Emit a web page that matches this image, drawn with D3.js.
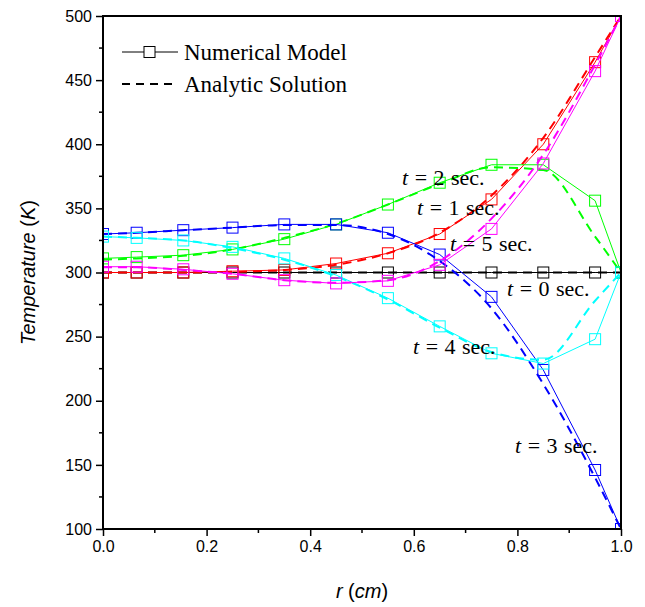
<!DOCTYPE html>
<html><head><meta charset="utf-8">
<script src="https://cdn.jsdelivr.net/npm/d3@7"></script>
<style>body{margin:0;background:#fff}svg{display:block}</style>
</head><body>
<svg id="c" width="645" height="607"></svg>
<script>
const rValues = [0, 0.065, 0.155, 0.25, 0.35, 0.45, 0.55, 0.65, 0.75, 0.85, 0.95, 1.0];
const numT0 = [300,300,300,300,300,300,300,300,300,300,300,300];
const numT1 = [300,300,300,301,302,307,315,330,357,400,464,500];
const numT2 = [311,312,313.5,318,326,337.5,353,370,384,384,356,300];
const numT3 = [330,331,333,335,337.5,337.5,331,314,281,224,146,100];
const numT4 = [328,327,325,320,311,298,280,258,237,229,248,300];
const numT5 = [304.5,304.5,302.5,299,294,291.5,293.5,306,334,385,457,500];
const anaT0 = [300,300,300,300,300,300,300,300,300,300,300,300];
const anaT1 = [300,300,300,300.5,302,306,315,331,360,405,468,500];
const anaT2 = [310,311,313,318,327,338,353,369,382,380,328,300];
const anaT3 = [330,331,333,335,337,337,330,309,272,213,140,100];
const anaT4 = [328,327,325,319,310,297,279,257,238,232,278,300];
const anaT5 = [304,304,302,299,294,292,294,309,342,392,462,500];
const seriesNames = ["t = 0 sec.","t = 1 sec.","t = 2 sec.","t = 3 sec.","t = 4 sec.","t = 5 sec."];
const seriesColors = ["#000000","#ff0000","#00ff00","#0000ff","#00ffff","#ff00ff"];
const xTicks = [0,0.2,0.4,0.6,0.8,1.0];
const yTicks = [100,150,200,250,300,350,400,450,500];

const num = [numT0,numT1,numT2,numT3,numT4,numT5];
const ana = [anaT0,anaT1,anaT2,anaT3,anaT4,anaT5];

const L=103, R=621, T=16, B=529;
const svg = d3.select("#c");
const x = d3.scaleLinear().domain([0,1]).range([L,R]);
const y = d3.scaleLinear().domain([100,500]).range([B,T]);

svg.append("defs").append("clipPath").attr("id","clip")
  .append("rect").attr("x",L).attr("y",T).attr("width",R-L).attr("height",B-T);

const g = svg.append("g").attr("clip-path","url(#clip)");
const lineS = d3.line().x((d,i)=>x(rValues[i])).y(d=>y(d));
const lineA = d3.line().x((d,i)=>x(rValues[i])).y(d=>y(d)).curve(d3.curveMonotoneX);

num.forEach((s,k)=>{
  g.append("path").attr("d",lineA(ana[k])).attr("fill","none")
   .attr("stroke",seriesColors[k]).attr("stroke-width",2).attr("stroke-dasharray","9,6");
  g.append("path").attr("d",lineS(s)).attr("fill","none")
   .attr("stroke",seriesColors[k]).attr("stroke-width",1);
  g.selectAll(null).data(s).enter().append("rect")
   .attr("x",(d,i)=>x(rValues[i])-5.5).attr("y",d=>y(d)-5.5)
   .attr("width",11).attr("height",11).attr("fill","none")
   .attr("stroke",seriesColors[k]).attr("stroke-width",1);
});

// axes
const xAxis = d3.axisBottom(x).tickValues(xTicks).tickFormat(d3.format(".1f")).tickSize(7).tickPadding(5);
const yAxis = d3.axisLeft(y).tickValues(yTicks).tickFormat(d3.format("d")).tickSize(7).tickPadding(4);
const gx = svg.append("g").attr("transform",`translate(0,${B})`).call(xAxis);
const gy = svg.append("g").attr("transform",`translate(${L},0)`).call(yAxis);
[gx,gy].forEach(a=>{
  a.select(".domain").remove();
  a.selectAll("line").attr("stroke","#000").attr("stroke-width",1.5);
  a.selectAll("text").attr("font-family","Liberation Sans, Arial, sans-serif").attr("font-size",16).attr("fill","#000");
});
// minor ticks
svg.append("g").selectAll(null).data(d3.range(0.1,1,0.2)).enter().append("line")
  .attr("x1",d=>x(d)).attr("x2",d=>x(d)).attr("y1",B).attr("y2",B+4)
  .attr("stroke","#000").attr("stroke-width",1.5);
svg.append("g").selectAll(null).data(d3.range(125,500,50)).enter().append("line")
  .attr("y1",d=>y(d)).attr("y2",d=>y(d)).attr("x1",L).attr("x2",L-4)
  .attr("stroke","#000").attr("stroke-width",1.5);
// frame
svg.append("rect").attr("x",L).attr("y",T).attr("width",R-L).attr("height",B-T)
  .attr("fill","none").attr("stroke","#000").attr("stroke-width",2);

// axis titles
const yt = svg.append("text").attr("transform",`translate(35,${(T+B)/2}) rotate(-90)`)
  .attr("text-anchor","middle").attr("font-family","Liberation Sans, Arial, sans-serif").attr("font-size",20);
yt.append("tspan").attr("font-style","italic").text("Temperature");
yt.append("tspan").text(" (");
yt.append("tspan").attr("font-style","italic").text("K");
yt.append("tspan").text(")");
const xt = svg.append("text").attr("x",(L+R)/2).attr("y",598)
  .attr("text-anchor","middle").attr("font-family","Liberation Sans, Arial, sans-serif").attr("font-size",20);
xt.append("tspan").attr("font-style","italic").text("r");
xt.append("tspan").text(" (");
xt.append("tspan").attr("font-style","italic").text("cm");
xt.append("tspan").text(")");

// legend
const serif = "Liberation Serif, Times New Roman, serif";
svg.append("line").attr("x1",122).attr("x2",178).attr("y1",52).attr("y2",52).attr("stroke","#000").attr("stroke-width",1);
svg.append("rect").attr("x",144).attr("y",46.5).attr("width",11).attr("height",11).attr("fill","#fff").attr("stroke","#000");
svg.append("line").attr("x1",122).attr("x2",178).attr("y1",84).attr("y2",84).attr("stroke","#000").attr("stroke-width",2).attr("stroke-dasharray","8,6");
svg.append("text").attr("x",184).attr("y",60).attr("font-family",serif).attr("font-size",23).text("Numerical Model");
svg.append("text").attr("x",184).attr("y",92).attr("font-family",serif).attr("font-size",23).text("Analytic Solution");

// annotations
const ann = [
  {k:2, x:402, y:185},
  {k:1, x:417, y:215},
  {k:5, x:450, y:251},
  {k:0, x:507, y:296},
  {k:4, x:413, y:354},
  {k:3, x:515, y:453}
];
ann.forEach(a=>{
  const parts = seriesNames[a.k].split(" ");
  const t = svg.append("text").attr("x",a.x).attr("y",a.y).attr("font-family",serif).attr("font-size",22).attr("word-spacing","1px");
  t.append("tspan").attr("font-style","italic").text(parts[0]);
  t.append("tspan").text(" " + parts.slice(1).join(" "));
});
</script>
</body></html>
